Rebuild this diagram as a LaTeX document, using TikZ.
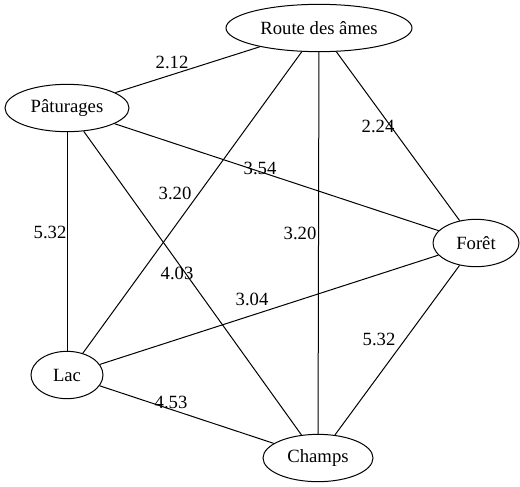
\documentclass[tikz,border=0pt]{standalone}
\usepackage{fontspec}
\setmainfont{Liberation Serif}
\usetikzlibrary{shapes.geometric}
\begin{document}
\begin{tikzpicture}[x=0.75pt,y=-0.75pt,
  place/.style={draw,ellipse,line width=0.75pt,inner sep=0pt,minimum height=35.5pt,font=\fontsize{14}{16}\selectfont},
  wlabel/.style={inner sep=0pt,font=\fontsize{14}{16}\selectfont},
  link/.style={line width=0.75pt}]
\useasboundingbox (0,0) rectangle (520,486);
\node[place,minimum width=139.5pt] (route) at (319,28) {Route des âmes};
\node[place,minimum width=93pt] (pat) at (67,108) {Pâturages};
\node[place,minimum width=64.5pt] (foret) at (476,243) {Forêt};
\node[place,minimum width=54pt] (lac) at (67,375) {Lac};
\node[place,minimum width=82.5pt] (champs) at (318,458) {Champs};
\draw[link] (route) -- (pat);
\draw[link] (route) -- (lac);
\draw[link] (route) -- (champs);
\draw[link] (route) -- (foret);
\draw[link] (pat) -- (foret);
\draw[link] (pat) -- (lac);
\draw[link] (pat) -- (champs);
\draw[link] (lac) -- (foret);
\draw[link] (lac) -- (champs);
\draw[link] (foret) -- (champs);
\node[wlabel] (l1) at (172,62) {2.12};
\node[wlabel] (l2) at (378,126) {2.24};
\node[wlabel] (l3) at (260,168) {3.54};
\node[wlabel] (l4) at (175,193) {3.20};
\node[wlabel] (l5) at (300,233) {3.20};
\node[wlabel] (l6) at (50,232) {5.32};
\node[wlabel] (l7) at (177,273) {4.03};
\node[wlabel] (l8) at (252,299) {3.04};
\node[wlabel] (l9) at (379,339) {5.32};
\node[wlabel] (l10) at (171,402) {4.53};
\end{tikzpicture}
\end{document}
